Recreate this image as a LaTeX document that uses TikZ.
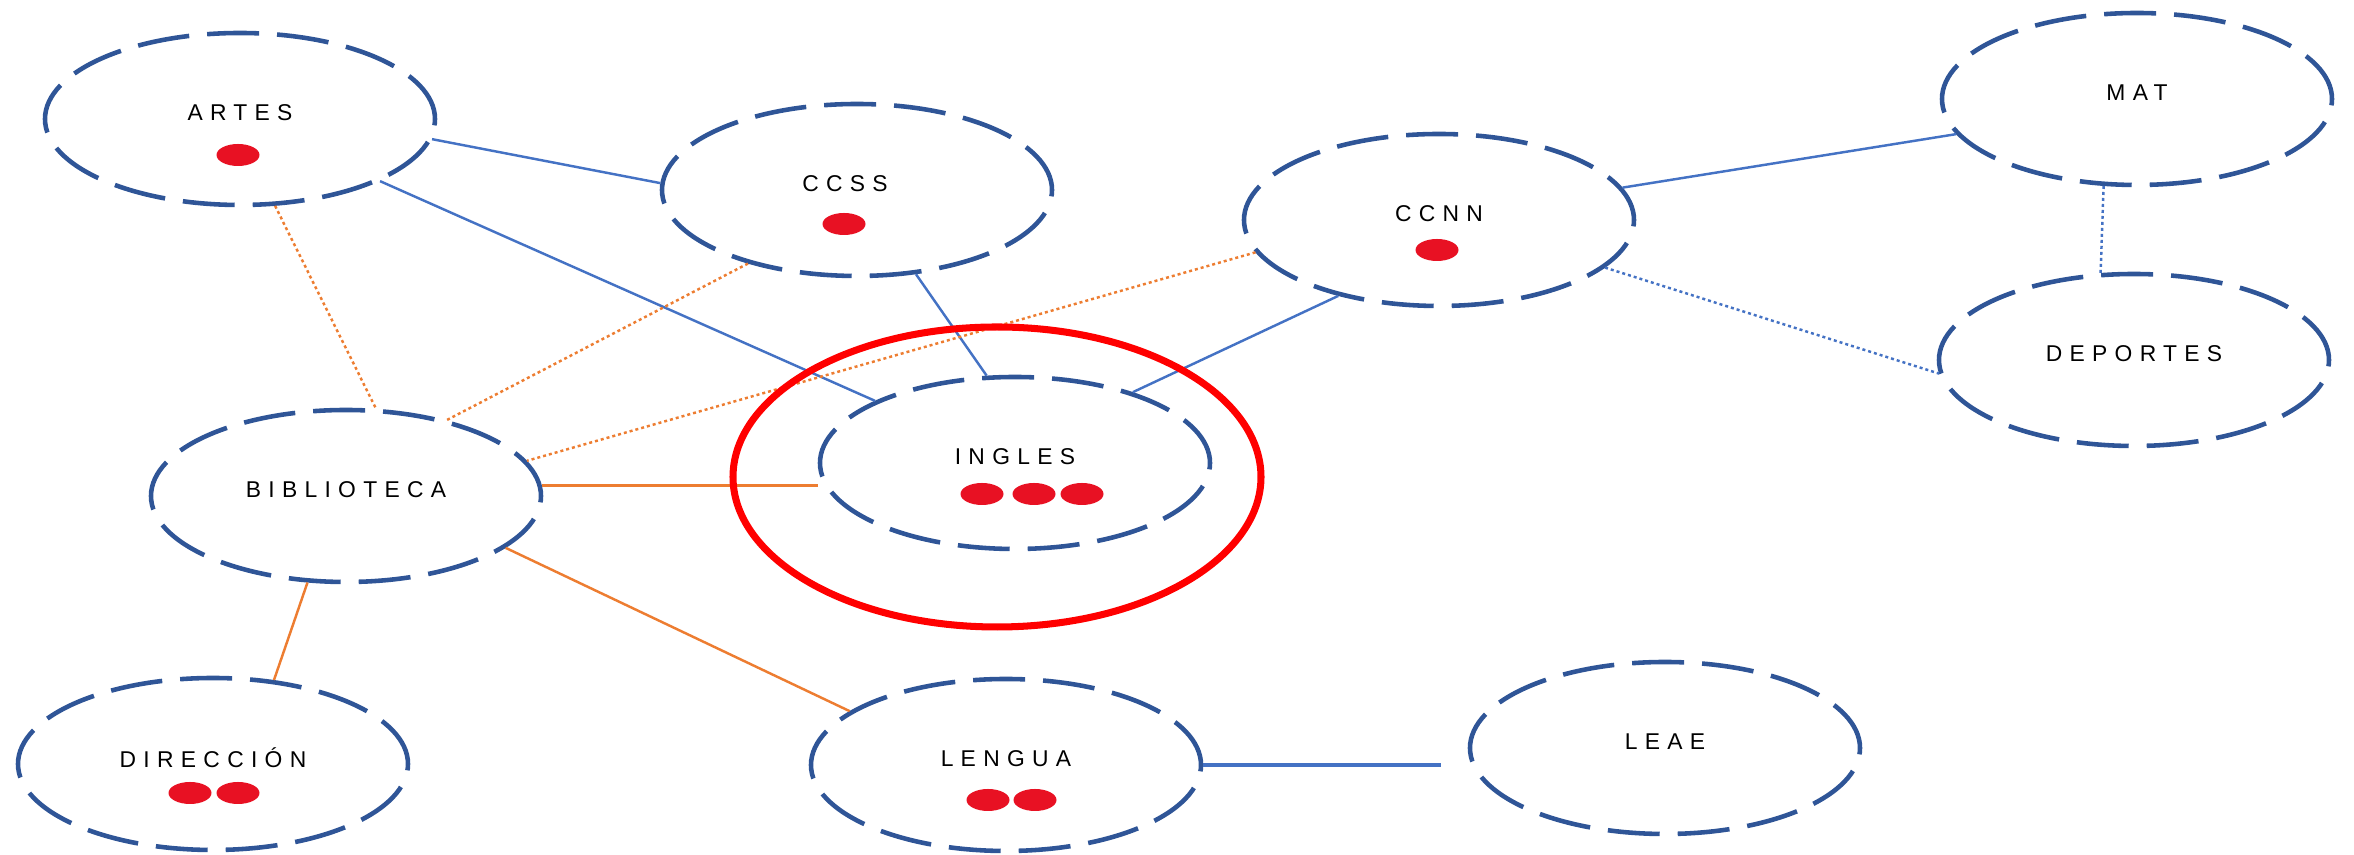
\documentclass[tikz,border=0pt]{standalone}
\usepackage{fontspec}
\setmainfont{Liberation Sans}
\usepackage{tikz}
\usetikzlibrary{shapes.geometric}
\usepackage{xcolor}
\definecolor{ringblue}{RGB}{47,85,151}
\definecolor{linkblue}{RGB}{68,114,196}
\definecolor{linkorange}{RGB}{237,125,49}
\definecolor{dotred}{RGB}{232,17,35}

\begin{document}
\begin{tikzpicture}
\tikzstyle{subject} =[ellipse, draw=ringblue, line width=1.3pt, dash pattern=on 0.52cm off 0.18cm, minimum width=3.9cm, minimum height=1.72cm, inner sep=0pt]
\tikzstyle{subjname} =[font=\fontsize{6.5}{8}\selectfont\addfontfeatures{LetterSpace=32}, text=black, inner sep=0pt, yshift=0.06cm]
\tikzstyle{blueline} =[linkblue, line width=0.7pt]
\tikzstyle{orangeline} =[linkorange, line width=0.7pt]
\tikzstyle{dots} =[dash pattern=on 0.03cm off 0.03cm]

\useasboundingbox (0,0) rectangle (23.54,8.55);

\node[subject](artes) at (2.40,7.36){};
\node[subject](ccss) at (8.57,6.65){};
\node[subject](ccnn) at (14.39,6.35){};
\node[subject](mat) at (21.37,7.56){};
\node[subject](deportes) at (21.34,4.95){};
\node[subject](biblioteca) at (3.46,3.59){};
\node[subject](ingles) at (10.15,3.92){};
\node[subject](direccion) at (2.13,0.91){};
\node[subject](lengua) at (10.06,0.90){};
\node[subject](leae) at (16.65,1.07){};

\node[subjname] at (artes) {ARTES};
\node[subjname,xshift=-0.12cm] at (ccss) {CCSS};
\node[subjname] at (ccnn) {CCNN};
\node[subjname] at (mat) {MAT};
\node[subjname] at (deportes) {DEPORTES};
\node[subjname] at (biblioteca) {BIBLIOTECA};
\node[subjname] at (ingles) {INGLES};
\node[subjname] at (direccion) {DIRECCIÓN};
\node[subjname] at (lengua) {LENGUA};
\node[subjname] at (leae) {LEAE};

\foreach \x/\y in {2.38/7.00, 8.44/6.31, 14.37/6.05, 9.82/3.61, 10.34/3.61, 10.82/3.61, 1.90/0.62, 2.38/0.62, 9.88/0.55, 10.35/0.55}
  \fill[dotred] (\x,\y) ellipse [x radius=0.215, y radius=0.11];

\draw[blueline] (artes.-6) -- (ccss.178);
\draw[blueline] (artes) -- (ingles);
\draw[orangeline,dots] (artes.-68) -- (biblioteca.71);
\draw[blueline] (ccss.-55) -- (ingles.108);
\draw[orangeline,dots] (ccss.-146) -- (biblioteca.37);
\draw[orangeline,dots] (ccnn.-170) -- (biblioteca.11);
\draw[blueline] (ccnn.-143) -- (ingles.31);
\draw[blueline] (ccnn.10) -- (mat.-169);
\draw[blueline,dots] (ccnn.-16) -- (deportes.-176);
\draw[blueline,dots] (mat.-111) -- (deportes.111);
\draw[orangeline] (biblioteca.3) -- (biblioteca.3 -| ingles.west);
\draw[orangeline] (biblioteca.-18) -- (lengua.161);
\draw[orangeline] (biblioteca.-114) -- (direccion.54);
\draw[blueline,line width=0.9pt,shorten >=0.27cm] (lengua.east) -- (lengua.east -| leae.west);

\draw[red, line width=2pt] (9.97,3.78) ellipse [x radius=2.64, y radius=1.50];
\end{tikzpicture}
\end{document}
